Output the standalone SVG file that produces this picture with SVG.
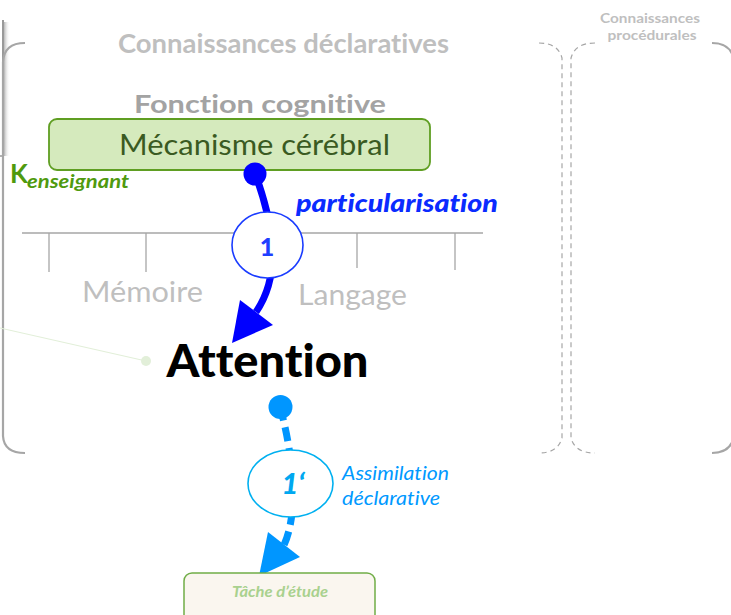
<svg xmlns="http://www.w3.org/2000/svg" width="731" height="615" viewBox="0 0 731 615">
<defs>
<style>
text{font-family:Lato,"Open Sans","Liberation Sans",sans-serif;font-variant-ligatures:none;font-feature-settings:"liga" 0,"dlig" 0}
.gray{fill:#bfbfbf;font-weight:bold}
.brace{fill:none;stroke:#a6a6a6;stroke-width:2.2}
.dbrace{fill:none;stroke:#a6a6a6;stroke-width:1.2;stroke-dasharray:5 4}
.tick{stroke:#a6a6a6;stroke-width:1.3}
</style>
<linearGradient id="sh" x1="0" y1="0" x2="1" y2="0">
<stop offset="0" stop-color="#b8b8b8"/>
<stop offset="1" stop-color="#ffffff" stop-opacity="0"/>
</linearGradient>
</defs>
<rect width="731" height="615" fill="#ffffff"/>

<g id="left-box">
<rect x="4" y="22" width="6" height="134" fill="url(#sh)"/>
<line x1="3" y1="20" x2="3" y2="156" stroke="#999999" stroke-width="2"/>
<line x1="0" y1="156" x2="4" y2="156" stroke="#999999" stroke-width="1.5"/>
</g>

<g id="braces">
<path class="brace" d="M25,43 Q4,43 3,62 L3,436 Q4,453 25,453"/>
<path class="brace" d="M712,43 Q731,43 734,60 L734,436 Q731,453 712,453"/>
<path class="dbrace" d="M539,43 Q558,43 562,58 L562,438 Q558,453 539,453"/>
<path class="dbrace" d="M595,43 Q575,43 571,58 L571,438 Q575,453 595,453"/>
</g>

<g id="titles">
<text class="gray" x="283.5" y="53" font-size="27" text-anchor="middle" textLength="331" lengthAdjust="spacingAndGlyphs">Connaissances déclaratives</text>
<text class="gray" x="650" y="23" font-size="14" text-anchor="middle" textLength="100" lengthAdjust="spacingAndGlyphs">Connaissances</text>
<text class="gray" x="652" y="40" font-size="14" text-anchor="middle" textLength="89" lengthAdjust="spacingAndGlyphs">procédurales</text>
<text x="260" y="113" font-size="25" font-weight="bold" fill="#a3a3a3" text-anchor="middle" textLength="252" lengthAdjust="spacingAndGlyphs">Fonction cognitive</text>
</g>

<g id="scale">
<line class="tick" x1="22" y1="233" x2="483" y2="233"/>
<line class="tick" x1="49" y1="233" x2="49" y2="272"/>
<line class="tick" x1="146" y1="233" x2="146" y2="272"/>
<line class="tick" x1="357" y1="233" x2="357" y2="268"/>
<line class="tick" x1="455" y1="233" x2="455" y2="270"/>
<text x="142.5" y="302" font-size="29" fill="#bfbfbf" text-anchor="middle" textLength="121" lengthAdjust="spacingAndGlyphs">Mémoire</text>
<text x="352.5" y="305" font-size="29" fill="#bfbfbf" text-anchor="middle" textLength="109" lengthAdjust="spacingAndGlyphs">Langage</text>
</g>

<g id="mecanisme">
<rect x="49" y="119" width="381" height="51" rx="8" fill="#d5eabd" stroke="#5f9e22" stroke-width="1.8"/>
<text x="254.5" y="155" font-size="29" fill="#3a5a22" text-anchor="middle" textLength="271" lengthAdjust="spacingAndGlyphs">Mécanisme cérébral</text>
</g>

<g id="k-enseignant">
<text x="10" y="183" font-size="26" font-weight="bold" fill="#4f9a0e">K</text>
<text x="27" y="188" font-size="19" font-weight="bold" font-style="italic" fill="#4f9a0e" textLength="102" lengthAdjust="spacingAndGlyphs">enseignant</text>
</g>

<g id="link-green">
<line x1="0" y1="328" x2="146" y2="361" stroke="#e2efd9" stroke-width="1.2"/>
<circle cx="146" cy="361" r="5" fill="#e2efd9"/>
</g>

<g id="attention">
<text x="267.5" y="377" font-size="46" font-weight="900" fill="#000000" text-anchor="middle" textLength="202" lengthAdjust="spacingAndGlyphs">Attention</text>
</g>

<g id="connectors">
<path d="M255,173 C270,215 285,270 256,312" fill="none" stroke="#0000ff" stroke-width="7"/>
<circle cx="255" cy="174" r="11.5" fill="#0000ff"/>
<polygon points="232,343 240,300 273,325" fill="#0000ff"/>
<path d="M280,407 C292,450 300,510 284,545" fill="none" stroke="#0096ff" stroke-width="7" stroke-dasharray="14 7"/>
<circle cx="280.5" cy="407" r="12" fill="#0096ff"/>
<polygon points="268,532 300,557 259,576" fill="#0096ff"/>
</g>

<g id="step1">
<ellipse cx="267.5" cy="245" rx="35.5" ry="33" fill="#ffffff" stroke="#1a3cff" stroke-width="1.6"/>
<text x="267" y="256" font-size="25" font-weight="900" fill="#1f3fff" text-anchor="middle">1</text>
<text x="397" y="212" font-size="24" font-weight="900" font-style="italic" fill="#0a2bff" text-anchor="middle" textLength="202" lengthAdjust="spacingAndGlyphs">particularisation</text>
</g>

<g id="step1prime">
<ellipse cx="290.5" cy="483.5" rx="42.5" ry="33.5" fill="#ffffff" stroke="#00b0f0" stroke-width="1.6"/>
<text x="293" y="494" font-size="29" font-weight="900" font-style="italic" fill="#00a8f0" text-anchor="middle">1‘</text>
<text x="342" y="480" font-size="19" font-style="italic" fill="#0099ff" textLength="107" lengthAdjust="spacingAndGlyphs">Assimilation</text>
<text x="342" y="505" font-size="19" font-style="italic" fill="#0099ff" textLength="98" lengthAdjust="spacingAndGlyphs">déclarative</text>
</g>

<g id="tache">
<rect x="184" y="573" width="191" height="60" rx="8" fill="#faf6ef" stroke="#70ad47" stroke-width="1.5"/>
<text x="280" y="597" font-size="15" font-weight="bold" font-style="italic" fill="#a9d18e" text-anchor="middle" textLength="96" lengthAdjust="spacingAndGlyphs">Tâche d’étude</text>
</g>
</svg>
